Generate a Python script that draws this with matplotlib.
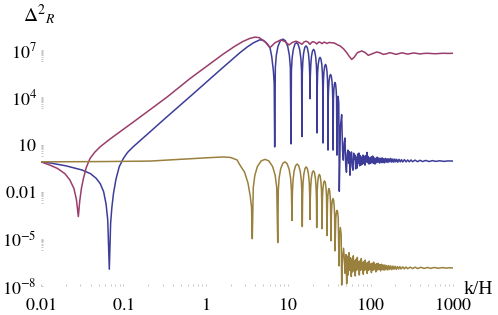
import matplotlib

matplotlib.use("Agg")
import matplotlib.pyplot as plt
import numpy as np
from matplotlib.ticker import FixedLocator, LogLocator, NullFormatter

# values, stored as log10(k/H) and log10(Delta^2_R)
magenta_logk = [-2.00, -1.89, -1.80, -1.71, -1.65, -1.60, -1.57, -1.547, -1.53, -1.51,
                -1.487, -1.45, -1.405, -1.35, -1.284, -1.163, -0.883, -0.471, -0.192, 0.002,
                0.209, 0.35, 0.45, 0.536, 0.60, 0.65, 0.718, 0.779, 0.84, 0.909,
                0.96, 1.010, 1.05, 1.095, 1.13, 1.167, 1.19, 1.216, 1.24, 1.265,
                1.283, 1.301, 1.325, 1.346, 1.362, 1.377, 1.394, 1.410, 1.424, 1.438,
                1.455, 1.471, 1.485, 1.499, 1.52, 1.544, 1.565, 1.587, 1.629, 1.67,
                1.710, 1.74, 1.771, 1.80, 1.84, 1.892, 1.932, 1.972, 2.02, 2.074,
                2.115, 2.154, 2.195, 2.235, 2.27, 2.308, 2.345, 2.381, 2.42, 2.454,
                2.49, 2.527, 2.56, 2.600, 2.65, 2.697, 2.745, 2.794, 2.84, 2.891,
                2.945, 3.000]
magenta_logp = [-0.10, -0.31, -0.52, -0.85, -1.25, -1.80, -2.50, -3.58, -2.60, -1.80,
                -1.20, -0.45, 0.12, 0.50, 0.85, 1.35, 2.42, 4.02, 5.20, 5.95,
                6.75, 7.25, 7.56, 7.76, 7.84, 7.80, 7.55, 7.17, 7.48, 7.66,
                7.56, 7.34, 7.50, 7.58, 7.50, 7.38, 7.52, 7.58, 7.52, 7.38,
                7.50, 7.55, 7.50, 7.40, 7.49, 7.53, 7.49, 7.42, 7.48, 7.52,
                7.48, 7.43, 7.47, 7.50, 7.48, 7.47, 7.45, 7.38, 7.28, 7.10,
                6.85, 6.62, 6.42, 6.55, 6.85, 6.96, 6.86, 6.68, 6.78, 6.89,
                6.84, 6.74, 6.78, 6.85, 6.80, 6.74, 6.79, 6.84, 6.79, 6.76,
                6.80, 6.83, 6.80, 6.77, 6.80, 6.81, 6.79, 6.78, 6.80, 6.81,
                6.80, 6.81]

blue_logk = [-2.00, -1.89, -1.70, -1.50, -1.40, -1.33, -1.28, -1.24, -1.21, -1.19, -1.171,
             -1.155, -1.14, -1.12, -1.09, -1.05, -1.00, -0.95, -0.883, -0.677, -0.471,
             -0.192, 0.002, 0.209, 0.415, 0.50, 0.58, 0.658, 0.70, 0.74, 0.78,
             0.80, 0.82, 0.83, 0.836,
             0.844, 0.856, 0.876, 0.905, 0.935, 0.965, 0.994, 1.014, 1.026, 1.034,
             1.039, 1.047, 1.061, 1.081, 1.100, 1.120, 1.140, 1.154, 1.162, 1.167,
             1.171, 1.177, 1.187, 1.201, 1.216, 1.231, 1.245, 1.255, 1.261, 1.265,
             1.268, 1.274, 1.282, 1.295, 1.308, 1.320, 1.333, 1.342, 1.347, 1.350,
             1.353, 1.357, 1.364, 1.375, 1.386, 1.397, 1.408, 1.415, 1.419, 1.422,
             1.424, 1.428, 1.434, 1.443, 1.453, 1.462, 1.471, 1.477, 1.481, 1.483,
             1.485, 1.489, 1.495, 1.504, 1.514, 1.523, 1.532, 1.538, 1.542, 1.544,
             1.549, 1.554, 1.561, 1.568, 1.575, 1.582, 1.587, 1.592,
             1.598, 1.606, 1.614, 1.620,
             1.634, 1.649, 1.660, 1.669, 1.679, 1.689, 1.698, 1.707, 1.716, 1.725,
             1.734, 1.742, 1.750, 1.759, 1.768, 1.777, 1.786, 1.795, 1.803, 1.811,
             1.819, 1.827, 1.835, 1.843, 1.851, 1.859, 1.867, 1.875, 1.883, 1.891,
             1.900, 1.908, 1.916, 1.924, 1.932, 1.940, 1.948, 1.956, 1.964, 1.972,
             1.981, 1.990, 1.999, 2.008, 2.017, 2.026, 2.035, 2.044, 2.053, 2.062,
             2.071, 2.080, 2.090, 2.100, 2.110, 2.120, 2.130, 2.140, 2.150, 2.160,
             2.170, 2.180, 2.190, 2.200, 2.211, 2.222, 2.233, 2.245, 2.257, 2.269,
             2.281, 2.293, 2.305, 2.317, 2.330, 2.345, 2.360, 2.375, 2.39, 2.41,
             2.43, 2.45, 2.47, 2.49, 2.51, 2.54, 2.57, 2.60, 2.63, 2.67,
             2.71, 2.75, 2.79, 2.84, 2.89, 2.94, 3.00]
blue_logp = [-0.10, -0.17, -0.35, -0.62, -0.85, -1.15, -1.50, -2.00, -2.80, -3.80, -6.93,
             -4.00, -3.00, -2.10, -1.20, -0.40, 0.12, 0.50, 0.85, 1.81, 2.77,
             4.05, 4.95, 5.91, 6.85, 7.20, 7.48, 7.67, 7.62, 7.45, 7.15,
             6.60, 5.70, 4.90, 0.85,
             5.91, 6.69, 7.25, 7.61, 7.71, 7.61, 7.25, 6.69, 5.91, 1.04,
             5.69, 6.47, 7.03, 7.39, 7.49, 7.39, 7.03, 6.47, 5.69, 1.51,
             5.48, 6.26, 6.82, 7.18, 7.28, 7.18, 6.82, 6.26, 5.48, 3.92,
             5.26, 6.04, 6.60, 6.96, 7.06, 6.96, 6.60, 6.04, 5.26, 1.74,
             4.75, 5.53, 6.09, 6.45, 6.55, 6.45, 6.09, 5.53, 4.75, 1.10,
             4.30, 5.08, 5.64, 6.00, 6.10, 6.00, 5.64, 5.08, 4.30, 0.65,
             3.66, 4.44, 5.00, 5.36, 5.46, 5.36, 5.00, 4.44, 3.66, 0.65,
             3.93, 4.49, 4.85, 4.95, 4.85, 4.49, 3.93, 0.33,
             3.61, 4.07, 3.61, -1.97,
             2.20, 2.90, 0.60, 0.01, 1.10, 1.42, -0.30, -0.76, 0.40, 0.65,
             -0.20, 0.55, -0.95, 0.30, 0.53, -0.40, -0.63, 0.45, 0.10, 0.33,
             -0.55, 0.20, -0.50, 0.40, -0.20, 0.46, -0.35, 0.30, -0.31, 0.20,
             -0.25, 0.33, -0.20, 0.25, -0.31, 0.30, -0.10, 0.50, -0.15, 0.25,
             -0.24, 0.15, -0.20, 0.22, -0.15, 0.27, -0.20, 0.15, -0.24, 0.12,
             -0.15, 0.20, -0.12, 0.15, -0.18, 0.12, -0.14, 0.16, -0.15, 0.10,
             -0.16, 0.12, -0.12, 0.10, -0.14, 0.10, -0.10, 0.12, -0.12, 0.08,
             -0.12, 0.08, -0.10, 0.06, -0.12, 0.06, -0.10, 0.04, -0.11, 0.04,
             -0.10, 0.02, -0.10, 0.02, -0.09, 0.01, -0.09, 0.00, -0.08, -0.01,
             -0.08, -0.02, -0.07, -0.03, -0.07, -0.04, -0.05]

gold_logk = [-2.00, -1.20, -0.677, -0.192, 0.05, 0.209, 0.30, 0.38, 0.415, 0.47,
             0.512, 0.54, 0.555, 0.564,
             0.576, 0.595, 0.626, 0.672, 0.719, 0.765, 0.811, 0.842, 0.861, 0.873,
             0.880, 0.890, 0.908, 0.934, 0.960, 0.985, 1.011, 1.029, 1.039, 1.046,
             1.051, 1.059, 1.071, 1.090, 1.109, 1.127, 1.146, 1.159, 1.166, 1.171,
             1.175, 1.180, 1.190, 1.204, 1.218, 1.232, 1.246, 1.256, 1.261, 1.265,
             1.268, 1.273, 1.281, 1.293, 1.306, 1.318, 1.330, 1.338, 1.343, 1.346,
             1.349, 1.352, 1.359, 1.368, 1.378, 1.388, 1.397, 1.404, 1.407, 1.410,
             1.416, 1.422, 1.431, 1.441, 1.450, 1.459, 1.465, 1.471,
             1.476, 1.481, 1.488, 1.495, 1.502, 1.509, 1.514, 1.519,
             1.524, 1.529, 1.536, 1.544, 1.551, 1.558, 1.563, 1.568,
             1.578, 1.585, 1.593, 1.600, 1.607, 1.617,
             1.623, 1.633, 1.643, 1.649,
             1.660, 1.672, 1.683, 1.692, 1.701, 1.710, 1.719, 1.728, 1.738, 1.747,
             1.756, 1.766, 1.774, 1.782, 1.790, 1.798, 1.806, 1.814, 1.822, 1.830,
             1.839, 1.847, 1.855, 1.863, 1.871, 1.879, 1.887, 1.895, 1.903, 1.911,
             1.919, 1.927, 1.935, 1.943, 1.951, 1.959, 1.967, 1.975, 1.983, 1.992,
             2.001, 2.010, 2.019, 2.028, 2.037, 2.046, 2.055, 2.064, 2.073, 2.082,
             2.092, 2.102, 2.112, 2.122, 2.132, 2.142, 2.152, 2.163, 2.174, 2.185,
             2.196, 2.208, 2.220, 2.232, 2.245, 2.258, 2.271, 2.284, 2.297, 2.311,
             2.325, 2.340, 2.355, 2.37, 2.39, 2.41, 2.43, 2.45, 2.48, 2.51,
             2.54, 2.57, 2.61, 2.65, 2.69, 2.73, 2.77, 2.82, 2.87, 2.92,
             2.96, 3.00]
gold_logp = [-0.10, -0.08, -0.05, 0.10, 0.17, 0.21, 0.18, 0.02, -0.31, -0.75,
             -1.45, -2.30, -3.00, -4.99,
             -1.74, -0.96, -0.40, -0.04, 0.06, -0.04, -0.40, -0.96, -1.74, -5.24,
             -1.90, -1.12, -0.56, -0.20, -0.10, -0.20, -0.56, -1.12, -1.90, -3.83,
             -2.04, -1.26, -0.70, -0.34, -0.24, -0.34, -0.70, -1.26, -2.04, -4.22,
             -2.22, -1.44, -0.88, -0.52, -0.42, -0.52, -0.88, -1.44, -2.22, -3.77,
             -2.47, -1.69, -1.13, -0.77, -0.67, -0.77, -1.13, -1.69, -2.47, -4.28,
             -2.70, -1.92, -1.36, -1.00, -0.90, -1.00, -1.36, -1.92, -2.70, -4.35,
             -2.33, -1.77, -1.41, -1.31, -1.41, -1.77, -2.33, -4.79,
             -2.82, -2.26, -1.90, -1.80, -1.90, -2.26, -2.82, -5.12,
             -3.46, -2.90, -2.54, -2.44, -2.54, -2.90, -3.46, -5.76,
             -3.65, -3.29, -3.19, -3.29, -3.65, -6.72,
             -4.74, -4.28, -4.74, -7.94,
             -6.20, -5.60, -6.40, -7.20, -6.00, -7.85, -6.10, -7.30, -5.88, -7.00,
             -6.20, -7.40, -6.30, -7.10, -6.08, -7.00, -6.40, -7.36, -6.30, -7.00,
             -6.18, -6.90, -6.45, -7.30, -6.40, -7.00, -6.25, -6.95, -6.50, -7.25,
             -6.45, -7.00, -6.35, -6.95, -6.55, -7.20, -6.50, -7.00, -6.42, -6.95,
             -6.60, -7.15, -6.55, -7.00, -6.48, -6.95, -6.62, -7.10, -6.58, -6.98,
             -6.55, -6.96, -6.64, -7.04, -6.62, -6.96, -6.66, -7.00, -6.66, -6.96,
             -6.70, -6.98, -6.70, -6.95, -6.72, -6.96, -6.73, -6.93, -6.75, -6.94,
             -6.76, -6.92, -6.77, -6.92, -6.78, -6.91, -6.79, -6.90, -6.80, -6.89,
             -6.80, -6.89, -6.81, -6.88, -6.82, -6.88, -6.82, -6.87, -6.83, -6.86,
             -6.84, -6.85]

x_ticks = [0.01, 0.1, 1, 10, 100, 1000]
x_ticklabels = ["$0.01$", "$0.1$", "$1$", "$10$", "$100$", "$1000$"]
y_ticks = [1e7, 1e4, 10, 0.01, 1e-5, 1e-8]
y_ticklabels = ["$10^{7}$", "$10^{4}$", "$10$", "$0.01$", "$10^{-5}$", "$10^{-8}$"]

# Mathematica default plot colours
curves = [
    (blue_logk, blue_logp, (0.24, 0.24, 0.6)),
    (magenta_logk, magenta_logp, (0.6, 0.24, 0.42)),
    (gold_logk, gold_logp, (0.6, 0.5, 0.24)),
]


def main() -> None:
    plt.rcParams["font.family"] = ["Liberation Serif", "DejaVu Serif"]
    plt.rcParams["mathtext.fontset"] = "stix"

    fig = plt.figure(figsize=(4.98, 3.15), dpi=100)
    ax = fig.add_axes([41 / 498, 29 / 315, 412 / 498, 264 / 315])

    for logk, logp, color in curves:
        assert len(logk) == len(logp), (len(logk), len(logp))
        ax.plot(10 ** np.array(logk), 10 ** np.array(logp), color=color, lw=1.1,
                solid_joinstyle="round")

    ax.set_xscale("log")
    ax.set_yscale("log")
    ax.set_xlim(0.01, 1000)
    ax.set_ylim(1e-8, 10 ** 8.8)

    ax.xaxis.set_major_locator(FixedLocator(x_ticks))
    ax.set_xticklabels(x_ticklabels)
    ax.xaxis.set_minor_locator(LogLocator(base=10, subs=np.arange(2, 10), numticks=20))
    ax.xaxis.set_minor_formatter(NullFormatter())

    ax.yaxis.set_major_locator(FixedLocator(y_ticks))
    ax.set_yticklabels(y_ticklabels)
    minor_y = [m * t / 10 for t in y_ticks[:-1] for m in range(2, 10)]
    ax.yaxis.set_minor_locator(FixedLocator(minor_y))
    ax.yaxis.set_minor_formatter(NullFormatter())

    for s in ax.spines.values():
        s.set_visible(False)
    ax.tick_params(which="both", direction="in", length=1.5, width=0.6, color="#bbbbbb",
                   labelsize=13)
    ax.tick_params(axis="x", pad=8)
    ax.tick_params(axis="y", pad=3)

    fig.text(23 / 498, 1 - 15 / 315, r"$\Delta^{2}{}_{R}$", fontsize=14, ha="left", va="center")
    fig.text(464 / 498, 1 - 290 / 315, "k/H", fontsize=14, ha="left", va="center")

    fig.savefig("out.png", dpi=100)
    plt.close(fig)


if __name__ == "__main__":
    main()
